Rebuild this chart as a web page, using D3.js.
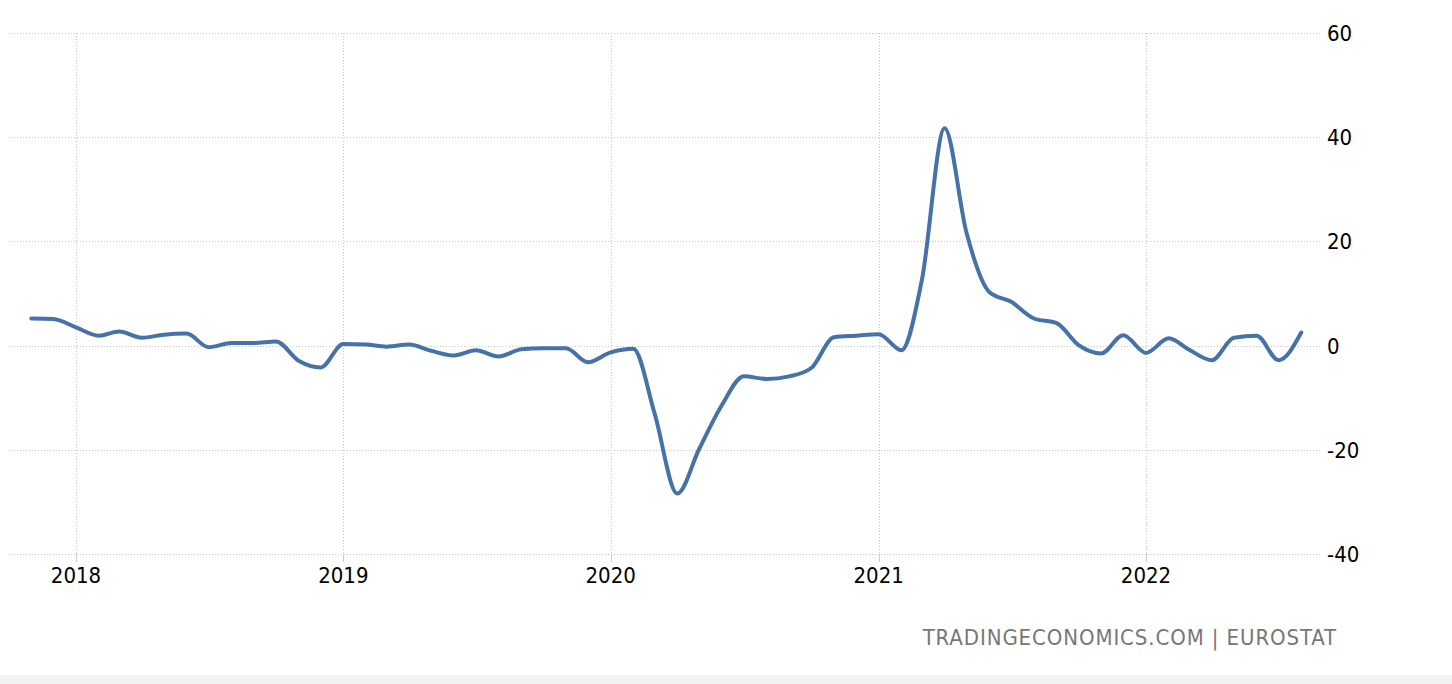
<!DOCTYPE html>
<html>
<head>
<meta charset="utf-8">
<script src="https://cdn.jsdelivr.net/npm/d3@7"></script>
<style>
html,body{margin:0;padding:0;background:#fff;}
svg{display:block;}
text{font-family:"DejaVu Sans Condensed","DejaVu Sans",sans-serif;font-stretch:condensed;}
</style>
</head>
<body>
<svg id="chart" width="1452" height="684"></svg>
<script>
// Monthly values, Nov 2017 .. Aug 2022
const startMonth = "2017-11";
const values = [
  5.2, 5.1,
  3.5, 1.9, 2.7, 1.5, 2.1, 2.3, -0.3, 0.5, 0.5, 0.8, -2.9, -4.2,
  0.3, 0.2, -0.2, 0.2, -1.0, -1.9, -0.9, -2.1, -0.7, -0.5, -0.5, -3.2,
  -1.3, -0.6, -13.0, -28.4, -19.8, -11.4, -5.9, -6.4, -5.9, -4.3, 1.6, 1.9,
  2.2, -0.9, 12.6, 41.7, 21.6, 10.3, 8.4, 5.2, 4.3, 0.1, -1.5, 2.0,
  -1.4, 1.4, -0.8, -2.8, 1.5, 1.9, -2.8, 2.5
];
const yTicks = [60, 40, 20, 0, -20, -40];
const xTickYears = [2018, 2019, 2020, 2021, 2022];
const sourceText = "TRADINGECONOMICS.COM | EUROSTAT";

(function () {
const parse = d3.timeParse("%Y-%m");
const t0 = parse(startMonth);
const data = values.map((v, i) => ({date: d3.timeMonth.offset(t0, i), value: v}));

const svg = d3.select("#chart");
const gLeft = 11, gRight = 1322, gTop = 33, gBottom = 554;

const x = d3.scaleTime()
  .domain([new Date(2018, 0, 1), new Date(2022, 0, 1)])
  .range([76, 1146]);
const y = d3.scaleLinear().domain([-40, 60]).range([gBottom, gTop]);

// bottom band
svg.append("rect").attr("x", 0).attr("y", 675).attr("width", 1452).attr("height", 9).attr("fill", "#f2f2f2");

// horizontal grid
svg.append("g").selectAll("line").data(yTicks).join("line")
  .attr("x1", gLeft).attr("x2", gRight)
  .attr("y1", d => Math.round(y(d)) + 0.5).attr("y2", d => Math.round(y(d)) + 0.5)
  .attr("stroke", "#c8c8c8").attr("stroke-dasharray", "1,2");

// vertical grid
const xTickDates = xTickYears.map(yr => new Date(yr, 0, 1));
svg.append("g").selectAll("line").data(xTickDates).join("line")
  .attr("x1", d => Math.round(x(d)) + 0.5).attr("x2", d => Math.round(x(d)) + 0.5)
  .attr("y1", gTop).attr("y2", gBottom)
  .attr("stroke", "#c8c8c8").attr("stroke-dasharray", "1,2");
// tick marks
svg.append("g").selectAll("line").data(xTickDates).join("line")
  .attr("x1", d => Math.round(x(d)) + 0.5).attr("x2", d => Math.round(x(d)) + 0.5)
  .attr("y1", gBottom).attr("y2", gBottom + 8)
  .attr("stroke", "#cccccc");

// y labels
svg.append("g").selectAll("text").data(yTicks).join("text")
  .attr("x", 1327).attr("y", d => y(d)).attr("dy", "0.36em")
  .attr("font-size", 22).attr("fill", "#000")
  .text(d => d);

// x labels
svg.append("g").selectAll("text").data(xTickDates).join("text")
  .attr("x", d => x(d)).attr("y", 583)
  .attr("text-anchor", "middle")
  .attr("font-size", 22).attr("fill", "#000")
  .text(d => d3.timeFormat("%Y")(d));

// line
const line = d3.line().x(d => x(d.date)).y(d => y(d.value)).curve(d3.curveMonotoneX);
svg.append("path").datum(data)
  .attr("d", line)
  .attr("fill", "none").attr("stroke", "#4572a7").attr("stroke-width", 4)
  .attr("stroke-linejoin", "round").attr("stroke-linecap", "round");

// source
svg.append("text").attr("x", 1337).attr("y", 645).attr("text-anchor", "end")
  .attr("font-size", 22).attr("fill", "#777").attr("letter-spacing", 0.9)
  .text(sourceText);
})();
</script>
</body>
</html>
